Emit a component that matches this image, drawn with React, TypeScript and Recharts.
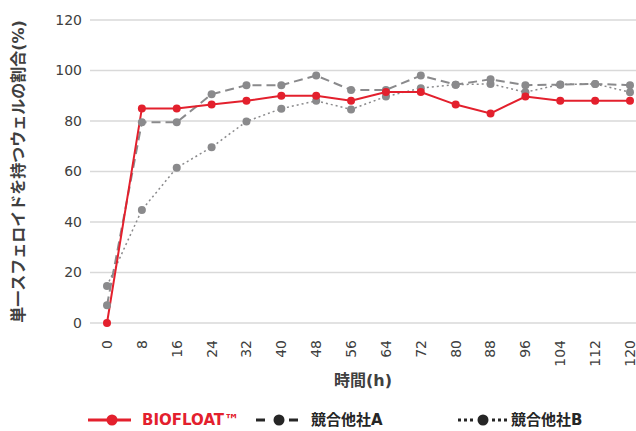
import {
  LineChart,
  Line,
  XAxis,
  YAxis,
  CartesianGrid,
} from "recharts";

const hours = [0, 8, 16, 24, 32, 40, 48, 56, 64, 72, 80, 88, 96, 104, 112, 120];
const biofloat = [0, 85, 85, 86.5, 88, 90, 90, 88, 91.5, 91.5, 86.5, 83, 89.7, 88, 88, 88];
const competitorA = [7, 79.5, 79.5, 90.6, 94.2, 94.2, 98, 92.3, 92.3, 98, 94.4, 96.5, 94.2, 94.4, 94.7, 94.2];
const competitorB = [14.7, 44.8, 61.5, 69.6, 79.8, 84.9, 88, 84.6, 89.7, 93, 94.4, 94.7, 91.4, 94.5, 94.7, 91.4];
const yTicks = [0, 20, 40, 60, 80, 100, 120];

const RED = "#e3202d";
const GRAY = "#8a8a8c";
const DARK = "#262626";
const TEXT = "#404040";
const FONT = "'DejaVu Sans', 'Noto Sans CJK JP', sans-serif";

const data = hours.map((h, i) => ({
  h,
  biofloat: biofloat[i],
  a: competitorA[i],
  b: competitorB[i],
}));

// 縦書きの目盛ラベル
const XTick = (props: any) => {
  const { x, y, payload } = props;
  return (
    <text
      transform={`translate(${x},${y + 9}) rotate(-90)`}
      textAnchor="end"
      dy="0.35em"
      fontSize={14}
      fontFamily={FONT}
      fill={TEXT}
    >
      {payload.value}
    </text>
  );
};

const LegendBar = () => (
  <svg width={636} height={26} style={{ position: "absolute", left: 0, top: 405 }}>
    <g fontFamily={FONT} fontWeight="bold" fontSize={15}>
      <line x1={88} x2={131} y1={15} y2={15} stroke={RED} strokeWidth={3} />
      <circle cx={112} cy={15} r={5.5} fill={RED} />
      <text x={142} y={20} fill={RED}>BIOFLOAT™</text>

      <line x1={256} x2={265} y1={15} y2={15} stroke={DARK} strokeWidth={3} />
      <circle cx={279} cy={15} r={5.5} fill={DARK} />
      <line x1={289} x2={298} y1={15} y2={15} stroke={DARK} strokeWidth={3} />
      <text x={311} y={20} fill={DARK}>競合他社A</text>

      <line x1={458} x2={474} y1={15} y2={15} stroke={DARK} strokeWidth={3} strokeDasharray="3 3" />
      <circle cx={483} cy={15} r={5.5} fill={DARK} />
      <line x1={492} x2={508} y1={15} y2={15} stroke={DARK} strokeWidth={3} strokeDasharray="3 3" />
      <text x={511} y={20} fill={DARK}>競合他社B</text>
    </g>
  </svg>
);

const App = () => {
  return (
    <div style={{ position: "relative", width: 636, height: 431 }}>
      <style>{`body { margin: 0; }`}</style>
      <LineChart
        width={636}
        height={431}
        data={data}
        margin={{ top: 20, right: 0, left: 0, bottom: 38 }}
      >
        <CartesianGrid vertical={false} stroke="#d9d9d9" strokeWidth={1.5} />
        <XAxis
          dataKey="h"
          type="number"
          domain={[0, 120]}
          ticks={hours}
          interval={0}
          padding={{ left: 17, right: 6 }}
          axisLine={false}
          tickLine={false}
          height={70}
          tick={<XTick />}
          label={{
            value: "時間(h)",
            position: "insideBottom",
            offset: 7,
            style: { fontFamily: FONT, fontWeight: "bold", fontSize: 16, fill: TEXT },
          }}
        />
        <YAxis
          domain={[0, 120]}
          ticks={yTicks}
          width={90}
          axisLine={false}
          tickLine={false}
          tick={{ fontSize: 14, fontFamily: FONT, fill: TEXT }}
          label={{
            value: "単一スフェロイドを持つウェルの割合(%)",
            angle: -90,
            position: "insideLeft",
            offset: 18,
            style: {
              textAnchor: "middle",
              fontFamily: FONT,
              fontWeight: "bold",
              fontSize: 16,
              fill: TEXT,
            },
          }}
        />
        <Line
          dataKey="b"
          stroke={GRAY}
          strokeWidth={1.5}
          strokeDasharray="2 3"
          dot={{ r: 4, fill: GRAY, stroke: GRAY, strokeWidth: 0 }}
          isAnimationActive={false}
        />
        <Line
          dataKey="a"
          stroke={GRAY}
          strokeWidth={2}
          strokeDasharray="9 5"
          dot={{ r: 4, fill: GRAY, stroke: GRAY, strokeWidth: 0 }}
          isAnimationActive={false}
        />
        <Line
          dataKey="biofloat"
          stroke={RED}
          strokeWidth={2}
          dot={{ r: 4, fill: RED, stroke: RED, strokeWidth: 0 }}
          isAnimationActive={false}
        />
      </LineChart>
      <LegendBar />
    </div>
  );
};

export default App;
